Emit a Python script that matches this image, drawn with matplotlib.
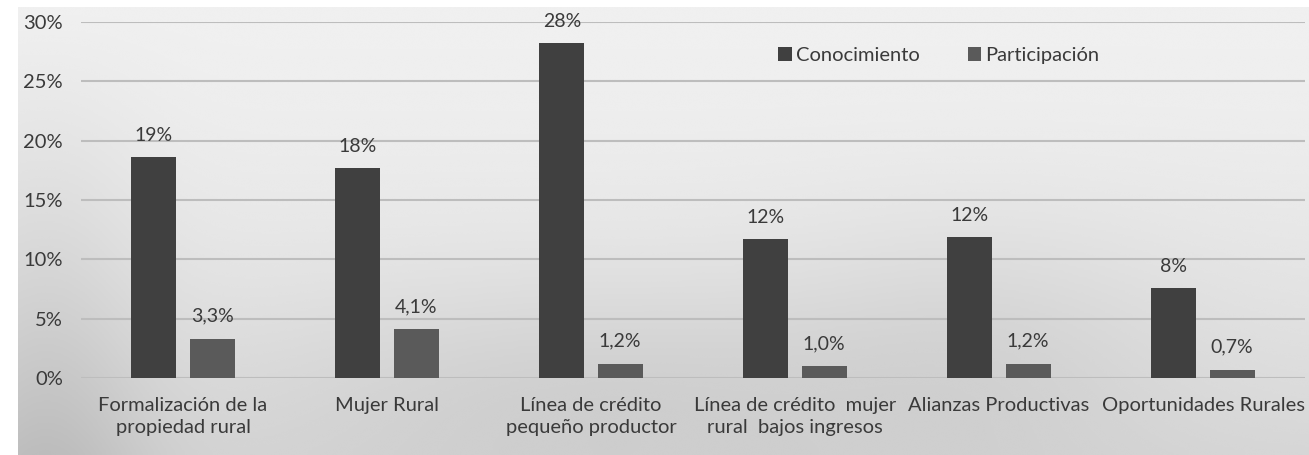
import numpy as np
import matplotlib.pyplot as plt

categorias = ["Formalización de la\npropiedad rural", "Mujer Rural",
              "Línea de crédito\npequeño productor",
              "Línea de crédito  mujer\nrural  bajos ingresos",
              "Alianzas Productivas", "Oportunidades Rurales"]
conocimiento = [18.6, 17.7, 28.2, 11.7, 11.9, 7.6]
participacion = [3.3, 4.1, 1.2, 1.0, 1.2, 0.7]

plt.rcParams['font.family'] = ['Lato', 'DejaVu Sans']

fig = plt.figure(figsize=(13.09, 4.55), dpi=100, facecolor='white')

# grey hazy backdrop behind the chart
bg = fig.add_axes([18 / 1309, 0, 1 - 18 / 1309, 448 / 455], zorder=0)
yy, xx = np.mgrid[0:1:200j, 0:1:600j]
shade = 0.94 - 0.10 * yy ** 1.6
shade -= 0.10 * np.exp(-((xx - 0.02) / 0.08) ** 2) * yy
shade -= 0.05 * np.exp(-((xx - 0.45) / 0.25) ** 2 - ((yy - 0.85) / 0.25) ** 2)
shade -= 0.04 * np.exp(-((xx - 0.75) / 0.15) ** 2 - ((yy - 0.75) / 0.3) ** 2)
bg.imshow(shade, cmap='gray', vmin=0, vmax=1, aspect='auto',
          extent=[0, 1, 1, 0], interpolation='bicubic')
bg.axis('off')

ax = fig.add_axes([81 / 1309, 77 / 455, 1224 / 1309, 356 / 455], zorder=1)
ax.patch.set_alpha(0)

x = np.arange(len(categorias))
w = 0.22
off = 0.143
b1 = ax.bar(x - off, conocimiento, w, color='#404040', label='Conocimiento', zorder=3)
b2 = ax.bar(x + off, participacion, w, color='#5a5a5a', label='Participación', zorder=3)

txt = '#3a3a3a'
for r, v in zip(b1, conocimiento):
    ax.text(r.get_x() + r.get_width() / 2, v + 1.1, f"{v:.0f}%",
            ha='center', va='bottom', fontsize=14, color=txt)
for r, v in zip(b2, participacion):
    ax.text(r.get_x() + r.get_width() / 2, v + 1.2,
            f"{v:.1f}%".replace('.', ','),
            ha='center', va='bottom', fontsize=14, color=txt)

ax.set_xlim(-0.5, len(categorias) - 0.5)
ax.set_ylim(0, 30)
ax.set_yticks(range(0, 31, 5))
ax.set_yticklabels([f"{t}%" for t in range(0, 31, 5)], fontsize=14.5, color=txt)
ax.set_xticks(x)
ax.set_xticklabels(categorias, fontsize=14.5, color=txt, linespacing=1.35)
ax.tick_params(length=0, pad=14)
ax.tick_params(axis='y', pad=13)
ax.grid(axis='y', color='#bdbdbd', linewidth=1.5, zorder=1)
for s in ax.spines.values():
    s.set_visible(False)

ax.legend(loc='upper left', bbox_to_anchor=(0.555, 0.98), ncol=2, frameon=False,
          fontsize=14.5, handlelength=0.65, handleheight=0.65, handletextpad=0.2,
          columnspacing=2.4, labelcolor=txt)

fig.savefig('out.png', dpi=100, facecolor='white')
